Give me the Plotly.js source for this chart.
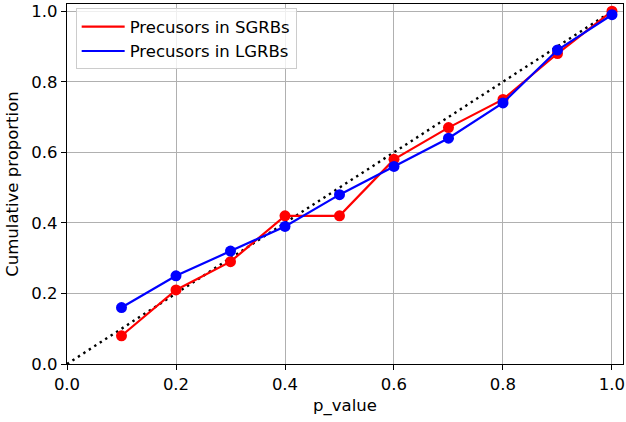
<!DOCTYPE html>
<html>
<head>
<meta charset="utf-8">
<script src="https://cdn.plot.ly/plotly-3.0.1.min.js"></script>
<style>html,body{margin:0;padding:0;background:#fff}#chart{width:626px;height:422px}</style>
</head>
<body>
<div id="chart"></div>
<script>
const pValues = [0.1, 0.2, 0.3, 0.4, 0.5, 0.6, 0.7, 0.8, 0.9, 1.0];
const sgrb = [0.08, 0.21, 0.29, 0.42, 0.42, 0.58, 0.67, 0.75, 0.88, 1.0];
const lgrb = [0.16, 0.25, 0.32, 0.39, 0.48, 0.56, 0.64, 0.74, 0.89, 0.99];
const diagX = [0, 1];
const diagY = [0, 1];
const seriesNames = ['Precusors in SGRBs', 'Precusors in LGRBs'];
const tickVals = [0.0, 0.2, 0.4, 0.6, 0.8, 1.0];
const tickText = ['0.0', '0.2', '0.4', '0.6', '0.8', '1.0'];

const font = {family: 'DejaVu Sans, sans-serif', size: 16.5, color: '#000'};

const traces = [
  {x: diagX, y: diagY, mode: 'lines', line: {color: '#000', width: 2.4, dash: '2.4px,4.1px'}, showlegend: false, hoverinfo: 'skip'},
  {x: pValues, y: sgrb, mode: 'lines', name: seriesNames[0], legendgroup: 'a', line: {color: '#ff0000', width: 2.2}},
  {x: pValues, y: sgrb, mode: 'markers', legendgroup: 'a', marker: {color: '#ff0000', size: 11}, showlegend: false},
  {x: pValues, y: lgrb, mode: 'lines', name: seriesNames[1], legendgroup: 'b', line: {color: '#0000ff', width: 2.2}},
  {x: pValues, y: lgrb, mode: 'markers', legendgroup: 'b', marker: {color: '#0000ff', size: 11}, showlegend: false}
];

const axisCommon = {
  showgrid: true, gridcolor: '#b0b0b0', gridwidth: 1,
  zeroline: false, showline: true, linecolor: '#000', linewidth: 1.2, mirror: true,
  ticks: 'outside', ticklen: 5, tickcolor: '#000', tickwidth: 1,
  tickvals: tickVals, ticktext: tickText, tickfont: font
};

const layout = {
  width: 626, height: 422,
  margin: {l: 67, r: 2.5, t: 3.5, b: 57.7, pad: 0},
  paper_bgcolor: '#fff', plot_bgcolor: '#fff',
  font: font,
  xaxis: Object.assign({}, axisCommon, {range: [0, 1.0202], title: {text: 'p_value', font: font, standoff: 6}}),
  yaxis: Object.assign({}, axisCommon, {range: [0, 1.0204], title: {text: 'Cumulative proportion', font: font, standoff: 8}}),
  legend: {
    x: 0.0156, y: 0.988, xanchor: 'left', yanchor: 'top',
    bgcolor: 'rgba(255,255,255,0.8)', bordercolor: '#cccccc', borderwidth: 1,
    font: font, tracegroupgap: 0, itemwidth: 43, traceorder: 'grouped'
  },
  showlegend: true
};

Plotly.newPlot('chart', traces, layout, {displayModeBar: false, staticPlot: true});
</script>
</body>
</html>
